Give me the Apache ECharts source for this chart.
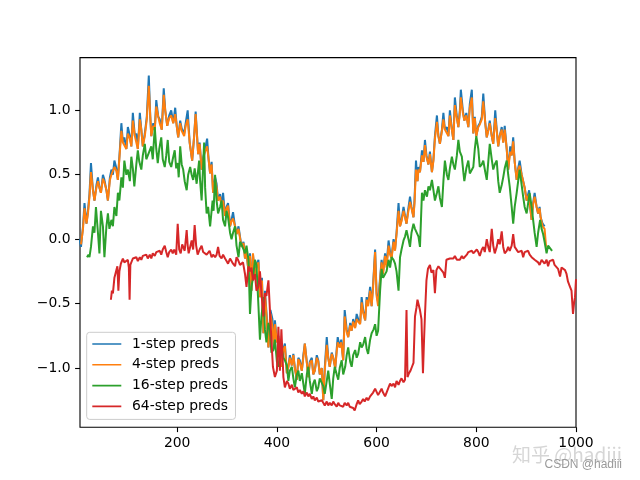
<!DOCTYPE html>
<html>
<head>
<meta charset="utf-8">
<script src="https://cdn.jsdelivr.net/npm/echarts@6/dist/echarts.min.js"></script>
<style>html,body{margin:0;padding:0;background:#fff}#c{width:640px;height:480px}</style>
</head>
<body>
<div id="c"></div>
<script>
const seriesNames = ['1-step preds', '4-step preds', '16-step preds', '64-step preds'];
const xTicks = [200, 400, 600, 800, 1000];
const yTicks = [-1.0, -0.5, 0.0, 0.5, 1.0];

const step1 = [[4,0.0],[7,-0.06],[11,0.10],[14,0.28],[18,0.12],[21,0.22],[24,0.35],[27,0.59],[31,0.38],[34,0.30],[38,0.42],[41,0.48],[44,0.40],[47,0.36],[51,0.50],[54,0.46],[58,0.38],[61,0.30],[65,0.48],[68,0.54],[71,0.50],[74,0.61],[78,0.55],[81,0.46],[85,0.70],[88,0.90],[91,0.75],[94,0.79],[98,0.70],[101,0.87],[105,0.80],[108,0.72],[111,0.98],[115,0.80],[118,0.82],[121,0.70],[125,0.98],[128,0.85],[131,0.72],[135,0.82],[139,0.95],[143,1.27],[146,0.95],[148,0.80],[152,0.90],[155,0.85],[158,1.08],[162,0.95],[165,0.93],[169,0.85],[173,1.17],[176,1.00],[180,0.88],[184,0.96],[188,1.00],[192,0.90],[196,1.02],[199,0.88],[202,0.79],[206,0.92],[209,0.86],[214,0.82],[217,0.90],[221,1.00],[225,0.75],[230,0.61],[234,0.80],[237,0.99],[242,0.66],[245,0.75],[249,0.54],[253,0.65],[256,0.70],[260,0.78],[263,0.62],[266,0.51],[269,0.60],[272,0.36],[276,0.48],[279,0.43],[282,0.30],[286,0.35],[289,0.25],[292,0.36],[296,0.18],[299,0.25],[302,0.28],[306,0.10],[309,0.15],[312,0.21],[316,0.10],[319,0.04],[323,0.10],[326,0.10],[329,-0.06],[333,-0.02],[336,-0.15],[339,-0.10],[343,-0.25],[346,-0.11],[349,-0.40],[352,-0.12],[356,-0.29],[359,-0.20],[363,-0.16],[366,-0.45],[370,-0.30],[373,-0.73],[376,-0.40],[380,-0.62],[383,-0.84],[387,-0.55],[391,-0.62],[394,-0.84],[396,-0.63],[400,-0.80],[403,-0.75],[406,-0.89],[409,-0.99],[413,-0.85],[416,-0.81],[420,-1.04],[423,-0.99],[426,-0.90],[430,-0.98],[433,-0.89],[436,-1.0],[440,-1.09],[443,-0.92],[446,-0.94],[450,-1.02],[453,-0.90],[456,-0.81],[460,-0.95],[463,-1.07],[466,-0.95],[470,-0.92],[473,-1.05],[476,-1.02],[480,-0.90],[483,-0.94],[486,-1.05],[490,-1.0],[493,-1.25],[496,-1.0],[500,-0.76],[503,-0.92],[506,-0.99],[510,-0.88],[513,-0.92],[517,-1.0],[520,-0.85],[522,-0.76],[526,-0.84],[529,-0.78],[533,-0.94],[536,-0.55],[540,-0.70],[543,-0.76],[547,-0.65],[550,-0.71],[553,-0.62],[557,-0.68],[560,-0.58],[563,-0.62],[567,-0.65],[570,-0.45],[573,-0.55],[577,-0.63],[580,-0.45],[583,-0.50],[587,-0.37],[590,-0.52],[593,-0.35],[597,-0.08],[600,-0.42],[603,-0.49],[607,-0.30],[610,-0.16],[613,-0.25],[617,-0.11],[620,-0.20],[624,-0.01],[627,-0.10],[630,-0.14],[634,0.0],[637,-0.08],[640,0.05],[644,0.28],[647,0.10],[650,0.15],[654,0.25],[657,0.18],[660,0.12],[663,0.22],[667,0.33],[670,0.25],[674,0.17],[676,0.30],[679,0.61],[682,0.45],[684,0.56],[687,0.52],[691,0.69],[694,0.60],[697,0.77],[700,0.65],[704,0.58],[707,0.68],[711,0.52],[714,0.62],[717,0.80],[721,0.96],[724,0.80],[727,0.74],[731,0.85],[734,0.98],[737,0.85],[741,0.87],[744,0.80],[747,1.00],[751,0.85],[754,0.77],[757,1.10],[761,0.95],[764,0.87],[767,1.00],[769,1.16],[773,1.0],[776,0.92],[780,0.98],[784,0.87],[787,1.05],[791,1.16],[794,0.82],[797,0.95],[800,0.80],[804,0.88],[807,0.90],[811,0.95],[814,1.13],[818,0.90],[821,0.79],[824,0.85],[827,0.92],[831,0.80],[834,0.74],[838,1.00],[841,0.85],[844,0.72],[847,0.80],[851,0.87],[854,0.75],[857,0.88],[861,0.70],[864,0.54],[868,0.72],[871,0.65],[874,0.79],[877,0.60],[881,0.46],[884,0.55],[887,0.61],[891,0.50],[894,0.51],[897,0.40],[901,0.30],[906,0.38],[908,0.25],[911,0.15],[914,0.28],[917,0.36],[921,0.25],[924,0.20],[927,0.25],[929,0.17],[933,0.12],[937,0.10]];

const step4 = [[7,-0.04],[11,0.08],[14,0.24],[18,0.12],[21,0.20],[24,0.33],[27,0.52],[31,0.38],[34,0.30],[38,0.40],[41,0.45],[44,0.40],[47,0.36],[51,0.47],[54,0.44],[58,0.38],[61,0.30],[65,0.46],[68,0.50],[71,0.50],[74,0.56],[78,0.53],[81,0.46],[85,0.68],[88,0.84],[91,0.75],[94,0.76],[98,0.70],[101,0.82],[105,0.78],[108,0.72],[111,0.92],[115,0.80],[118,0.80],[121,0.70],[125,0.93],[128,0.85],[131,0.72],[135,0.80],[139,0.93],[143,1.19],[146,0.95],[148,0.80],[152,0.88],[155,0.85],[158,1.03],[162,0.95],[165,0.90],[169,0.85],[173,1.12],[176,1.00],[180,0.88],[184,0.94],[188,0.96],[192,0.90],[196,0.97],[199,0.88],[202,0.79],[206,0.90],[209,0.84],[214,0.80],[217,0.88],[221,0.93],[225,0.75],[230,0.61],[234,0.80],[237,0.97],[242,0.66],[245,0.74],[249,0.54],[253,0.64],[256,0.68],[260,0.72],[263,0.62],[266,0.51],[269,0.58],[272,0.36],[276,0.46],[279,0.40],[282,0.30],[286,0.33],[289,0.25],[292,0.30],[296,0.18],[299,0.24],[302,0.26],[306,0.10],[309,0.14],[312,0.16],[316,0.10],[319,0.04],[323,0.08],[326,0.08],[329,-0.06],[333,-0.03],[336,-0.15],[339,-0.10],[343,-0.25],[346,-0.13],[349,-0.40],[352,-0.11],[356,-0.29],[359,-0.22],[363,-0.18],[366,-0.45],[370,-0.32],[373,-0.73],[376,-0.42],[380,-0.65],[383,-0.84],[387,-0.58],[391,-0.68],[394,-0.84],[396,-0.66],[400,-0.80],[403,-0.77],[406,-0.89],[409,-0.99],[413,-0.86],[416,-0.83],[420,-1.04],[423,-0.99],[426,-0.92],[430,-0.98],[433,-0.90],[436,-1.0],[440,-1.09],[443,-0.93],[446,-0.96],[450,-1.02],[453,-0.92],[456,-0.81],[460,-0.96],[463,-1.07],[466,-0.96],[470,-0.94],[473,-1.05],[476,-1.02],[480,-0.92],[483,-0.95],[486,-1.05],[490,-1.0],[493,-1.25],[496,-1.02],[500,-0.82],[503,-0.92],[506,-0.99],[510,-0.89],[513,-0.92],[517,-1.0],[520,-0.87],[522,-0.80],[526,-0.84],[529,-0.80],[533,-0.94],[536,-0.60],[540,-0.72],[543,-0.76],[547,-0.67],[550,-0.71],[553,-0.64],[557,-0.69],[560,-0.62],[563,-0.64],[567,-0.66],[570,-0.49],[573,-0.57],[577,-0.63],[580,-0.47],[583,-0.52],[587,-0.40],[590,-0.52],[593,-0.37],[597,-0.10],[600,-0.44],[603,-0.52],[607,-0.32],[610,-0.18],[613,-0.27],[617,-0.13],[620,-0.22],[624,-0.05],[627,-0.12],[630,-0.15],[634,-0.02],[637,-0.09],[640,0.04],[644,0.22],[647,0.10],[650,0.14],[654,0.22],[657,0.17],[660,0.12],[663,0.20],[667,0.29],[670,0.24],[674,0.17],[676,0.28],[679,0.54],[682,0.45],[684,0.54],[687,0.52],[691,0.65],[694,0.60],[697,0.73],[700,0.64],[704,0.58],[707,0.66],[711,0.52],[714,0.61],[717,0.78],[721,0.91],[724,0.80],[727,0.74],[731,0.84],[734,0.93],[737,0.85],[741,0.86],[744,0.80],[747,0.96],[751,0.85],[754,0.77],[757,1.04],[761,0.94],[764,0.87],[767,0.98],[769,1.10],[773,0.98],[776,0.92],[780,0.96],[784,0.87],[787,1.02],[791,1.10],[794,0.82],[797,0.94],[800,0.80],[804,0.87],[807,0.89],[811,0.93],[814,1.07],[818,0.90],[821,0.79],[824,0.84],[827,0.90],[831,0.80],[834,0.74],[838,0.94],[841,0.84],[844,0.72],[847,0.80],[851,0.85],[854,0.75],[857,0.85],[861,0.70],[864,0.54],[868,0.68],[871,0.65],[874,0.76],[877,0.60],[881,0.46],[884,0.54],[887,0.57],[891,0.50],[894,0.50],[897,0.40],[901,0.30],[906,0.35],[908,0.25],[911,0.15],[914,0.27],[917,0.33],[921,0.25],[924,0.20],[927,0.24],[929,0.17],[933,0.10],[937,0.08],[940,-0.06]];

const step16 = [[19,-0.14],[22,-0.12],[24,-0.14],[27,-0.06],[31,0.10],[34,0.05],[37,0.25],[41,0.05],[44,-0.11],[47,0.22],[51,0.10],[54,-0.14],[58,0.10],[61,0.20],[64,0.08],[68,0.15],[71,0.10],[74,0.25],[78,0.18],[81,0.36],[84,0.30],[88,0.48],[91,0.40],[94,0.61],[98,0.50],[101,0.54],[105,0.45],[108,0.64],[111,0.55],[114,0.41],[118,0.58],[121,0.69],[124,0.60],[128,0.54],[131,0.65],[135,0.74],[138,0.62],[141,0.61],[144,0.68],[148,0.72],[151,0.62],[155,0.87],[158,0.70],[161,0.59],[164,0.70],[168,0.79],[171,0.62],[175,0.56],[178,0.65],[181,0.77],[184,0.60],[188,0.56],[191,0.62],[195,0.69],[198,0.55],[201,0.59],[203,0.48],[206,0.72],[209,0.58],[212,0.54],[215,0.45],[219,0.38],[222,0.50],[226,0.56],[229,0.50],[232,0.46],[235,0.55],[239,0.43],[244,0.61],[246,0.45],[249,0.30],[254,0.75],[256,0.40],[259,0.20],[262,0.25],[266,0.10],[268,0.18],[271,0.30],[273,0.22],[276,0.50],[279,0.30],[282,0.20],[286,0.25],[289,0.30],[292,0.15],[296,0.10],[299,0.22],[302,0.17],[306,0.05],[309,0.0],[312,0.05],[316,0.10],[319,-0.05],[323,-0.14],[326,-0.02],[329,-0.04],[333,-0.08],[336,-0.11],[339,-0.05],[343,-0.16],[346,-0.58],[349,-0.37],[352,-0.30],[356,-0.16],[359,-0.20],[363,-0.52],[366,-0.78],[369,-0.60],[373,-0.45],[376,-0.70],[379,-0.80],[383,-0.65],[386,-0.70],[389,-0.88],[393,-0.86],[396,-0.78],[400,-0.95],[403,-0.99],[406,-0.90],[409,-0.84],[413,-0.92],[416,-0.94],[420,-0.98],[423,-1.10],[426,-1.02],[430,-0.99],[433,-1.08],[436,-1.15],[440,-1.05],[443,-1.02],[446,-1.10],[450,-1.04],[453,-1.12],[456,-1.20],[460,-1.05],[463,-0.99],[466,-1.10],[470,-1.20],[473,-1.12],[476,-1.09],[480,-1.18],[483,-1.15],[486,-1.08],[490,-1.07],[493,-1.14],[496,-1.20],[500,-1.10],[503,-1.02],[506,-1.12],[510,-1.24],[513,-1.08],[516,-0.99],[520,-1.05],[523,-1.09],[526,-1.00],[530,-0.94],[533,-1.05],[537,-0.99],[540,-0.90],[543,-0.84],[547,-0.95],[550,-0.99],[553,-0.90],[557,-0.86],[560,-0.92],[563,-0.89],[567,-0.80],[570,-0.84],[573,-0.82],[577,-0.76],[580,-0.85],[583,-0.89],[587,-0.78],[590,-0.73],[594,-0.70],[597,-0.66],[600,-0.75],[603,-0.71],[607,-0.40],[610,-0.23],[613,-0.30],[617,-0.30],[620,-0.25],[624,-0.16],[627,-0.22],[630,-0.14],[634,-0.16],[637,-0.19],[640,-0.25],[644,-0.40],[647,-0.14],[650,-0.08],[654,-0.01],[657,0.02],[660,0.07],[664,0.0],[667,-0.06],[670,0.05],[674,0.12],[677,0.08],[680,0.07],[684,0.02],[687,-0.06],[691,0.36],[694,0.30],[697,0.38],[701,0.33],[704,0.41],[707,0.38],[711,0.46],[714,0.38],[717,0.30],[721,0.36],[724,0.41],[727,0.32],[731,0.25],[734,0.45],[737,0.61],[741,0.50],[744,0.46],[747,0.55],[751,0.64],[754,0.58],[757,0.54],[761,0.65],[764,0.77],[767,0.68],[771,0.64],[774,0.52],[776,0.45],[780,0.55],[784,0.61],[787,0.51],[791,0.51],[794,0.56],[797,0.70],[800,0.80],[804,0.70],[807,0.56],[811,0.58],[814,0.61],[818,0.52],[821,0.46],[824,0.60],[827,0.74],[831,0.62],[834,0.54],[837,0.58],[841,0.61],[844,0.45],[847,0.36],[851,0.42],[854,0.48],[857,0.55],[861,0.61],[864,0.50],[867,0.41],[871,0.25],[874,0.12],[877,0.25],[881,0.36],[884,0.45],[887,0.54],[891,0.42],[894,0.33],[897,0.25],[901,0.20],[904,0.28],[907,0.36],[911,0.25],[914,0.15],[917,0.05],[921,-0.06],[924,0.05],[928,0.15],[931,0.08],[934,0.04],[937,-0.02],[941,-0.11],[944,-0.05],[948,-0.06],[952,-0.09]];

const step64 = [[67,-0.47],[69,-0.40],[71,-0.42],[74,-0.30],[76,-0.27],[78,-0.24],[80,-0.21],[82,-0.40],[84,-0.25],[87,-0.19],[89,-0.17],[91,-0.15],[94,-0.18],[98,-0.19],[101,-0.16],[103,-0.22],[104.5,-0.47],[106,-0.20],[108,-0.19],[111,-0.15],[115,-0.16],[118,-0.14],[121,-0.17],[125,-0.14],[128,-0.16],[131,-0.13],[135,-0.14],[138,-0.12],[141,-0.15],[145,-0.12],[148,-0.15],[151,-0.11],[155,-0.13],[158,-0.10],[161,-0.11],[165,-0.09],[168,-0.12],[171,-0.08],[175,-0.05],[178,-0.10],[181,-0.14],[184,-0.10],[188,-0.08],[191,-0.11],[194,-0.08],[198,-0.12],[201,0.12],[204,-0.08],[207,-0.11],[210,-0.04],[212,-0.06],[215,-0.09],[219,0.07],[221,-0.05],[223,-0.11],[226,-0.06],[229,-0.01],[232,-0.08],[235,0.11],[238,-0.05],[241,-0.12],[245,-0.08],[249,-0.05],[252,-0.10],[256,-0.09],[259,-0.12],[262,-0.11],[265,-0.09],[269,-0.14],[272,-0.12],[276,-0.14],[279,-0.12],[282,-0.06],[285,-0.13],[289,-0.15],[292,-0.12],[296,-0.15],[299,-0.17],[302,-0.19],[306,-0.15],[309,-0.14],[312,-0.19],[316,-0.21],[319,-0.14],[322,-0.16],[326,-0.20],[329,-0.21],[332,-0.18],[336,-0.27],[339,-0.37],[343,-0.21],[346,-0.25],[349,-0.22],[352,-0.32],[356,-0.27],[359,-0.40],[363,-0.37],[366,-0.25],[369,-0.42],[373,-0.60],[376,-0.42],[379,-0.44],[383,-0.32],[386,-0.32],[389,-0.78],[392,-0.99],[396,-1.07],[400,-1.02],[403,-0.68],[406,-1.02],[409,-0.70],[413,-1.07],[416,-1.15],[420,-1.10],[423,-1.12],[426,-1.16],[430,-1.13],[433,-1.17],[436,-1.18],[440,-1.15],[443,-1.19],[446,-1.17],[450,-1.20],[453,-1.18],[456,-1.22],[460,-1.19],[463,-1.22],[466,-1.20],[470,-1.24],[473,-1.22],[476,-1.25],[480,-1.23],[483,-1.26],[486,-1.27],[490,-1.25],[493,-1.27],[496,-1.29],[500,-1.26],[503,-1.29],[506,-1.27],[510,-1.29],[513,-1.26],[516,-1.28],[520,-1.30],[523,-1.27],[526,-1.29],[530,-1.28],[533,-1.30],[536,-1.27],[540,-1.29],[543,-1.27],[546,-1.30],[550,-1.29],[553,-1.31],[556,-1.33],[560,-1.28],[563,-1.25],[566,-1.28],[570,-1.26],[573,-1.24],[576,-1.26],[580,-1.23],[583,-1.25],[587,-1.22],[590,-1.21],[593,-1.19],[597,-1.16],[600,-1.17],[603,-1.21],[607,-1.20],[610,-1.16],[613,-1.19],[617,-1.22],[620,-1.19],[624,-1.15],[627,-1.12],[630,-1.14],[634,-1.12],[637,-1.15],[640,-1.10],[644,-1.13],[647,-1.10],[650,-1.08],[654,-1.11],[657,-1.09],[660,-0.55],[662,-1.07],[665,-1.04],[668,-1.02],[671,-0.99],[674,-0.96],[677,-0.60],[680,-0.53],[682,-0.47],[684,-0.46],[687,-0.55],[690,-0.62],[693,-1.04],[695,-0.80],[697,-0.59],[700,-0.32],[703,-0.23],[707,-0.20],[710,-0.26],[714,-0.24],[717,-0.42],[720,-0.24],[724,-0.21],[727,-0.22],[730,-0.24],[734,-0.26],[737,-0.30],[740,-0.16],[744,-0.17],[747,-0.15],[751,-0.14],[754,-0.15],[757,-0.13],[761,-0.16],[764,-0.15],[767,-0.16],[771,-0.13],[774,-0.15],[778,-0.14],[781,-0.12],[784,-0.10],[787,-0.11],[791,-0.09],[794,-0.11],[797,-0.12],[801,-0.08],[804,-0.10],[807,-0.13],[811,-0.08],[814,-0.06],[817,-0.10],[821,0.0],[824,-0.06],[827,-0.10],[831,0.08],[834,-0.05],[837,-0.11],[841,-0.06],[844,0.0],[847,-0.04],[851,0.06],[854,-0.06],[857,-0.11],[861,-0.09],[864,-0.06],[867,-0.09],[871,-0.05],[874,0.04],[877,-0.06],[881,-0.06],[884,-0.10],[887,-0.11],[891,-0.09],[894,-0.14],[897,-0.10],[901,-0.09],[904,-0.09],[907,-0.12],[911,-0.14],[914,-0.13],[917,-0.16],[921,-0.16],[924,-0.18],[927,-0.20],[931,-0.16],[934,-0.16],[937,-0.19],[941,-0.16],[944,-0.21],[947,-0.17],[951,-0.18],[954,-0.16],[957,-0.20],[961,-0.19],[964,-0.23],[968,-0.29],[971,-0.22],[974,-0.21],[978,-0.24],[981,-0.27],[984,-0.33],[988,-0.37],[991,-0.40],[994,-0.58],[996,-0.50],[998,-0.45],[1000,-0.31]];

const colors = ['#1f77b4', '#ff7f0e', '#2ca02c', '#d62728'];
const allData = [step1, step4, step16, step64];
const FONT = 'DejaVu Sans';
const FS = 13.9;
const lineIcon = 'path://M0,0L0.01,0L0,0.01Z M0,6.2L29,6.2L29,7.8L0,7.8Z M28.99,14L29,14L29,13.99Z';

const chart = echarts.init(document.getElementById('c'), null, {renderer: 'canvas'});
chart.setOption({
  animation: false,
  backgroundColor: '#fff',
  color: colors,
  grid: {left: 80, right: 64, top: 57.6, bottom: 52.8, show: true, borderColor: '#000', borderWidth: 1.1, backgroundColor: 'transparent'},
  xAxis: {
    type: 'value', min: 5, max: 1000,
    splitLine: {show: false},
    axisLine: {show: false, onZero: false},
    axisTick: {show: true, length: 4.9, lineStyle: {color: '#000', width: 1.1}, customValues: xTicks},
    axisLabel: {color: '#000', fontFamily: FONT, fontSize: FS, margin: 9.5, customValues: xTicks, formatter: v => String(v)}
  },
  yAxis: {
    type: 'value', min: -1.459, max: 1.409,
    splitLine: {show: false},
    axisLine: {show: false, onZero: false},
    axisTick: {show: true, length: 4.9, lineStyle: {color: '#000', width: 1.1}, customValues: yTicks},
    axisLabel: {color: '#000', fontFamily: FONT, fontSize: FS, margin: 9.5, customValues: yTicks,
      formatter: v => (v < 0 ? '\u2212' : '') + Math.abs(v).toFixed(1)}
  },
  legend: {
    orient: 'vertical', left: 86.7, top: 332.3,
    padding: [4.7, 7.5, 6, 5.6],
    itemWidth: 29, itemHeight: 14, itemGap: 6.8,
    icon: lineIcon,
    backgroundColor: 'rgba(255,255,255,0.8)', borderColor: '#cccccc', borderWidth: 1, borderRadius: 3,
    textStyle: {color: '#000', fontFamily: FONT, fontSize: FS, padding: [0, 0, 0, 5.7]},
    data: seriesNames
  },
  series: allData.map((d, i) => ({
    name: seriesNames[i], type: 'line', data: d, symbol: 'none', showSymbol: false,
    lineStyle: {width: 2, color: colors[i]}, itemStyle: {color: colors[i]},
    clip: true, z: 2 + i
  })),
  graphic: [
    {type: 'text', left: 512, top: 445, z: 100, style: {text: '知乎 @hadiii', fill: '#d6d6d6', font: '19px "Noto Sans CJK SC"'}},
    {type: 'text', right: 18, top: 459, z: 100, style: {text: 'CSDN @hadiii', fill: '#9a9a9a', font: '12px "Liberation Sans"'}}
  ]
});
</script>
</body>
</html>
